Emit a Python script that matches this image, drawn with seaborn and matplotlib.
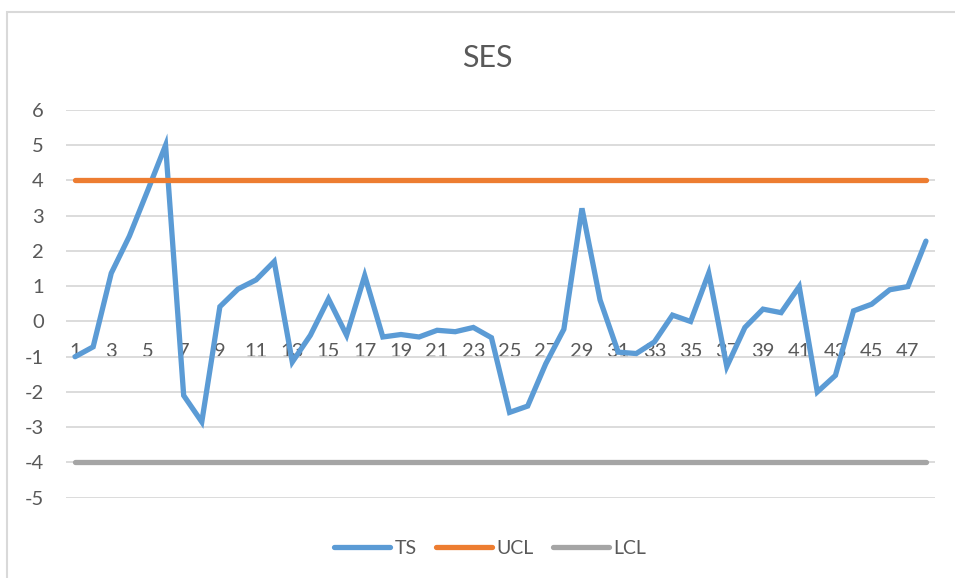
import pandas as pd
import matplotlib
matplotlib.use('Agg')
import matplotlib.pyplot as plt
from matplotlib.patches import Rectangle
import seaborn as sns

# Tracking signal values
periods = list(range(1, 49))
ts = [-1.0, -0.72, 1.37, 2.42, 3.7, 5.0, -2.1, -2.85, 0.42, 0.92,
      1.18, 1.7, -1.15, -0.39, 0.64, -0.39, 1.3, -0.44, -0.37, -0.44,
      -0.25, -0.29, -0.17, -0.46, -2.58, -2.4, -1.2, -0.22, 3.21, 0.61,
      -0.87, -0.91, -0.58, 0.18, 0.0, 1.37, -1.28, -0.17, 0.35, 0.25,
      0.99, -2.0, -1.53, 0.3, 0.49, 0.9, 0.99, 2.28]
ucl = [4] * 48
lcl = [-4] * 48
series_names = ['TS', 'UCL', 'LCL']
y_ticks = list(range(-5, 7))
x_ticks = list(range(1, 48, 2))

df = pd.DataFrame({'period': periods, 'TS': ts, 'UCL': ucl, 'LCL': lcl})
long = df.melt(id_vars='period', var_name='series', value_name='value')

sns.set_style('white')
plt.rcParams['font.family'] = ['Lato', 'DejaVu Sans']
plt.rcParams['axes.unicode_minus'] = False
text_color = '#595959'
palette = {'TS': '#5B9BD5', 'UCL': '#ED7D31', 'LCL': '#A5A5A5'}

fig = plt.figure(figsize=(9.55, 5.78), dpi=100)
ax = fig.add_axes([66 / 955, 1 - 497.7 / 578, 869 / 955, 387.7 / 578])

sns.lineplot(data=long, x='period', y='value', hue='series', hue_order=series_names,
             palette=palette, linewidth=3.8, ax=ax, legend=False,
             solid_capstyle='round', solid_joinstyle='miter')

ax.set_xlim(0.5, 48.5)
ax.set_ylim(-5, 6)
ax.set_yticks(y_ticks)
ax.set_xticks(x_ticks)
ax.set_xticklabels([str(v) for v in x_ticks])
ax.grid(axis='y', color='#D9D9D9', linewidth=1.3)
ax.set_axisbelow(True)
for s in ax.spines.values():
    s.set_color('none')
ax.spines['bottom'].set_position(('data', 0))
ax.tick_params(axis='x', length=0, pad=15.5, labelsize=14.5, labelcolor=text_color)
ax.tick_params(axis='y', length=0, pad=16, labelsize=14.5, labelcolor=text_color)
ax.set_xlabel('')
ax.set_ylabel('')

fig.text(487 / 955, 1 - 58 / 578, 'SES', ha='center', va='center',
         fontsize=22, color=text_color)

handles = [plt.Line2D([], [], color=palette[n], linewidth=3.8, solid_capstyle='round')
           for n in series_names]
fig.legend(handles, series_names, loc='center', bbox_to_anchor=(490 / 955, 1 - 548 / 578),
           ncol=3, frameon=False, fontsize=14, labelcolor=text_color,
           handlelength=2.9, handletextpad=0.2, columnspacing=1.0)

fig.patches.append(Rectangle((6.5 / 955, -0.1), 1.2, 1 - 12.5 / 578 + 0.1,
                             transform=fig.transFigure, fill=False,
                             edgecolor='#D9D9D9', linewidth=1.5))

fig.savefig('out.png', dpi=100)
